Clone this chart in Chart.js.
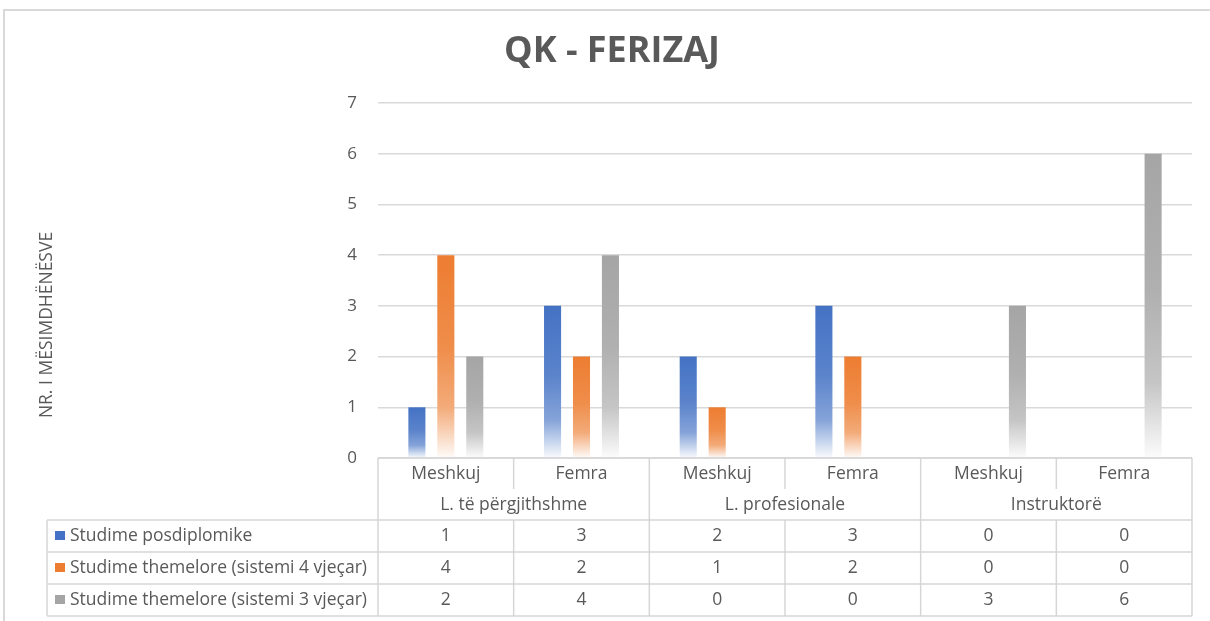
<!DOCTYPE html>
<html>
<head>
<meta charset="utf-8">
<script src="https://cdn.jsdelivr.net/npm/chart.js@4.4.1/dist/chart.umd.min.js"></script>
<style>
html,body{margin:0;padding:0;background:#fff;}
#wrap{position:relative;width:1210px;height:621px;}
</style>
</head>
<body>
<div id="wrap"><canvas id="c"></canvas></div>
<script>
const chartTitle = 'QK - FERIZAJ';
const yAxisTitle = 'NR. I MËSIMDHËNËSVE';
const subCategories = ['Meshkuj', 'Femra', 'Meshkuj', 'Femra', 'Meshkuj', 'Femra'];
const groups = ['L. të përgjithshme', 'L. profesionale', 'Instruktorë'];
const seriesNames = ['Studime posdiplomike', 'Studime themelore (sistemi 4 vjeçar)', 'Studime themelore (sistemi 3 vjeçar)'];
const posdiplomike = [1, 3, 2, 3, 0, 0];
const themelore4 = [4, 2, 1, 2, 0, 0];
const themelore3 = [2, 4, 0, 0, 3, 6];
const yMin = 0, yMax = 7, yStep = 1;
const seriesColors = ['#4472C4', '#ED7D31', '#A5A5A5'];

const FONT = '"Open Sans", "Noto Sans", sans-serif';
const TXT = '#595959';
const LINE = '#d6d6d6';

function mix(hex, t) {
  const r = parseInt(hex.slice(1,3),16), g = parseInt(hex.slice(3,5),16), b = parseInt(hex.slice(5,7),16);
  const m = c => Math.round(c + (255 - c) * t);
  return `rgb(${m(r)},${m(g)},${m(b)})`;
}

function gradientFor(color) {
  return function(context) {
    const chart = context.chart;
    if (context.type !== 'data' || !chart.chartArea) return color;
    const v = context.raw;
    if (!v) return color;
    const ys = chart.scales.y;
    const top = ys.getPixelForValue(v), bot = ys.getPixelForValue(0);
    const g = chart.ctx.createLinearGradient(0, top, 0, bot);
    g.addColorStop(0, color);
    g.addColorStop(0.45, mix(color, 0.12));
    g.addColorStop(0.75, mix(color, 0.35));
    g.addColorStop(1, mix(color, 0.97));
    return g;
  };
}

const seriesData = [posdiplomike, themelore4, themelore3];

const decorPlugin = {
  id: 'decor',
  beforeDraw(chart) {
    const ctx = chart.ctx;
    ctx.save();
    ctx.strokeStyle = '#d9d9d9';
    ctx.lineWidth = 2;
    ctx.beginPath();
    ctx.moveTo(4, 621); ctx.lineTo(4, 10); ctx.lineTo(1210, 10);
    ctx.stroke();
    ctx.restore();
  },
  afterDraw(chart) {
    const { ctx, chartArea: ca, scales: { x } } = chart;
    ctx.save();
    // Title
    ctx.fillStyle = TXT;
    ctx.font = `bold 36px ${FONT}`;
    ctx.textAlign = 'center';
    ctx.textBaseline = 'middle';
    ctx.fillText(chartTitle, 612, 52);
    // Y axis title
    ctx.save();
    ctx.translate(47, 325);
    ctx.rotate(-Math.PI / 2);
    ctx.font = `17.5px ${FONT}`;
    ctx.fillText(yAxisTitle, 0, 0);
    ctx.restore();

    // Data table
    const n = subCategories.length;
    const w = x.getPixelForValue(1) - x.getPixelForValue(0);
    const edge = i => x.getPixelForValue(0) - w / 2 + i * w;
    const center = i => x.getPixelForValue(i);
    const top = ca.bottom;
    const r1 = top + 16, r2 = top + 47, hb = top + 62;
    const rowH = 32;
    const leftX = 47;
    const rightX = edge(n);

    ctx.strokeStyle = LINE;
    ctx.lineWidth = 1.5;
    ctx.beginPath();
    ctx.moveTo(edge(0), top); ctx.lineTo(rightX, top);
    ctx.moveTo(edge(0), top); ctx.lineTo(edge(0), hb + 3 * rowH);
    ctx.moveTo(rightX, top); ctx.lineTo(rightX, hb + 3 * rowH);
    for (let k = 0; k <= 3; k++) {
      ctx.moveTo(leftX, hb + k * rowH); ctx.lineTo(rightX, hb + k * rowH);
    }
    ctx.moveTo(leftX, hb); ctx.lineTo(leftX, hb + 3 * rowH);
    for (let i = 1; i < n; i++) {
      const ex = edge(i);
      if (i % 2 === 0) {
        ctx.moveTo(ex, top); ctx.lineTo(ex, hb + 3 * rowH);
      } else {
        ctx.moveTo(ex, top); ctx.lineTo(ex, top + 31);
        ctx.moveTo(ex, hb); ctx.lineTo(ex, hb + 3 * rowH);
      }
    }
    ctx.stroke();

    ctx.fillStyle = TXT;
    ctx.font = `17.5px ${FONT}`;
    ctx.textAlign = 'center';
    ctx.textBaseline = 'middle';
    for (let i = 0; i < n; i++) ctx.fillText(subCategories[i], center(i), r1);
    for (let gI = 0; gI < groups.length; gI++) {
      ctx.fillText(groups[gI], (edge(gI * 2) + edge(gI * 2 + 2)) / 2, r2);
    }
    for (let s = 0; s < seriesData.length; s++) {
      const my = hb + s * rowH + rowH / 2;
      for (let i = 0; i < n; i++) ctx.fillText(String(seriesData[s][i]), center(i), my);
      ctx.fillStyle = seriesColors[s];
      ctx.fillRect(55, my - 5, 10, 9);
      ctx.fillStyle = TXT;
      ctx.textAlign = 'left';
      ctx.fillText(seriesNames[s], 70, my);
      ctx.textAlign = 'center';
    }
    ctx.restore();
  }
};

new Chart(document.getElementById('c'), {
  type: 'bar',
  data: {
    labels: subCategories,
    datasets: seriesNames.map((name, s) => ({
      label: name,
      data: seriesData[s],
      backgroundColor: gradientFor(seriesColors[s]),
      borderWidth: 0,
      categoryPercentage: 0.64,
      barPercentage: 0.59
    }))
  },
  options: {
    responsive: true,
    maintainAspectRatio: false,
    animation: false,
    layout: { padding: { top: 103, right: 18, bottom: 163, left: 0 } },
    plugins: {
      legend: { display: false },
      title: { display: false },
      tooltip: { enabled: false }
    },
    scales: {
      x: { display: false },
      y: {
        min: yMin, max: yMax,
        afterFit(scale) { scale.width = 378; },
        border: { display: false },
        grid: { color: '#d9d9d9', lineWidth: 1.5, drawTicks: false },
        ticks: { stepSize: yStep, padding: 21, color: TXT, font: { family: FONT, size: 17 } }
      }
    }
  },
  plugins: [decorPlugin]
});
</script>
</body>
</html>
